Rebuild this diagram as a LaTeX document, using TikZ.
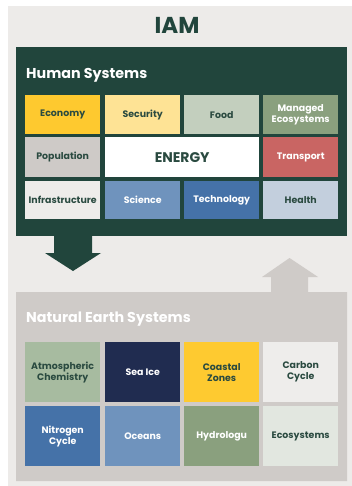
\documentclass[tikz,border=0pt]{standalone}
\usepackage{fontspec}
\setmainfont{Poppins}
\definecolor{bgpanel}{HTML}{EDEBE9}
\definecolor{deepgreen}{HTML}{21453C}
\definecolor{stone}{HTML}{CFCBC8}
\definecolor{cEconomy}{HTML}{FEC92F}
\definecolor{cSecurity}{HTML}{FEE395}
\definecolor{cFood}{HTML}{C3CFBE}
\definecolor{cManaged}{HTML}{8AA07E}
\definecolor{cPopulation}{HTML}{CECAC7}
\definecolor{cTransport}{HTML}{C96563}
\definecolor{cInfra}{HTML}{EEECEA}
\definecolor{cScience}{HTML}{6F93BD}
\definecolor{cTech}{HTML}{4572A8}
\definecolor{cHealth}{HTML}{C3CFDD}
\definecolor{cAtmo}{HTML}{A7BBA0}
\definecolor{cSeaIce}{HTML}{202C50}
\definecolor{cCoastal}{HTML}{FECA30}
\definecolor{cCarbon}{HTML}{EEEDEB}
\definecolor{cEco}{HTML}{E2E7E0}
\definecolor{inkdark}{HTML}{2A4A40}
\tikzset{
  tile/.style={draw=none, inner sep=0pt, anchor=north west, align=center,
    font=\bfseries\fontsize{9.4}{11}\selectfont},
  darktext/.style={text=inkdark},
  lighttext/.style={text=white},
  paneltitle/.style={anchor=west, inner sep=0pt, text=white,
    font=\bfseries\fontsize{14.3}{16}\selectfont},
}
\begin{document}
\begin{tikzpicture}[x=1pt,y=-1pt]
\useasboundingbox (0,0) rectangle (352,486);
\fill[white] (0,0) rectangle (352,486);
\fill[bgpanel] (8,6) rectangle (352,486);

% title
\node[text=deepgreen, font=\bfseries\fontsize{23}{26}\selectfont] (iam) at (177,25) {IAM};

% human systems panel
\fill[deepgreen] (16,47) rectangle (347,236);
\node[paneltitle] (human) at (26,75) {Human Systems};

% tiles of the human systems panel
\node[tile,darktext,fill=cEconomy,minimum width=75pt,minimum height=39pt] (economy) at (25,95) {Economy};
\node[tile,darktext,fill=cSecurity,minimum width=75pt,minimum height=39pt] (security) at (105,95) {Security};
\node[tile,darktext,fill=cFood,minimum width=75pt,minimum height=39pt] (food) at (184,95) {Food};
\node[tile,lighttext,fill=cManaged,minimum width=75pt,minimum height=39pt] (managed) at (263,95) {Managed\\Ecosystems};

\node[tile,darktext,fill=cPopulation,minimum width=75pt,minimum height=40pt] (population) at (25,137) {Population};
\node[tile,darktext,fill=white,minimum width=154pt,minimum height=40pt,font=\bfseries\fontsize{14}{15}\selectfont] (energy) at (105,137) {ENERGY};
\node[tile,lighttext,fill=cTransport,minimum width=75pt,minimum height=40pt] (transport) at (263,137) {Transport};

\node[tile,darktext,fill=cInfra,minimum width=75pt,minimum height=38pt] (infra) at (25,181) {Infrastructure};
\node[tile,lighttext,fill=cScience,minimum width=75pt,minimum height=38pt] (science) at (105,181) {Science};
\node[tile,lighttext,fill=cTech,minimum width=75pt,minimum height=38pt] (technology) at (184,181) {Technology};
\node[tile,darktext,fill=cHealth,minimum width=75pt,minimum height=38pt] (health) at (263,181) {Health};

% downward arrow from human to natural systems
\fill[deepgreen] (54,236) -- (92,236) -- (92,253) -- (101,253) -- (73,271)
  -- (45,253) -- (54,253) -- cycle;

% upward arrow and natural earth systems panel
\fill[stone] (16,292) -- (271,292) -- (271,277) -- (262,277) -- (289.5,258)
  -- (318,277) -- (308,277) -- (308,292) -- (347,292) -- (347,481) -- (16,481) -- cycle;
\node[paneltitle] (natural) at (26,319) {Natural Earth Systems};

% tiles of the natural earth systems panel
\node[tile,darktext,fill=cAtmo,minimum width=75pt,minimum height=60pt] (atmo) at (25,342) {Atmospheric\\Chemistry};
\node[tile,lighttext,fill=cSeaIce,minimum width=75pt,minimum height=60pt] (seaice) at (105,342) {Sea Ice};
\node[tile,darktext,fill=cCoastal,minimum width=75pt,minimum height=60pt] (coastal) at (184,342) {Coastal\\Zones};
\node[tile,darktext,fill=cCarbon,minimum width=75pt,minimum height=60pt] (carbon) at (263,342) {Carbon\\Cycle};

\node[tile,lighttext,fill=cTech,minimum width=75pt,minimum height=60pt] (nitrogen) at (25,406) {Nitrogen\\Cycle};
\node[tile,lighttext,fill=cScience,minimum width=75pt,minimum height=60pt] (oceans) at (105,406) {Oceans};
\node[tile,lighttext,fill=cManaged,minimum width=75pt,minimum height=60pt] (hydro) at (184,406) {Hydrologu};
\node[tile,darktext,fill=cEco,minimum width=75pt,minimum height=60pt] (ecosys) at (263,406) {Ecosystems};
\end{tikzpicture}
\end{document}
